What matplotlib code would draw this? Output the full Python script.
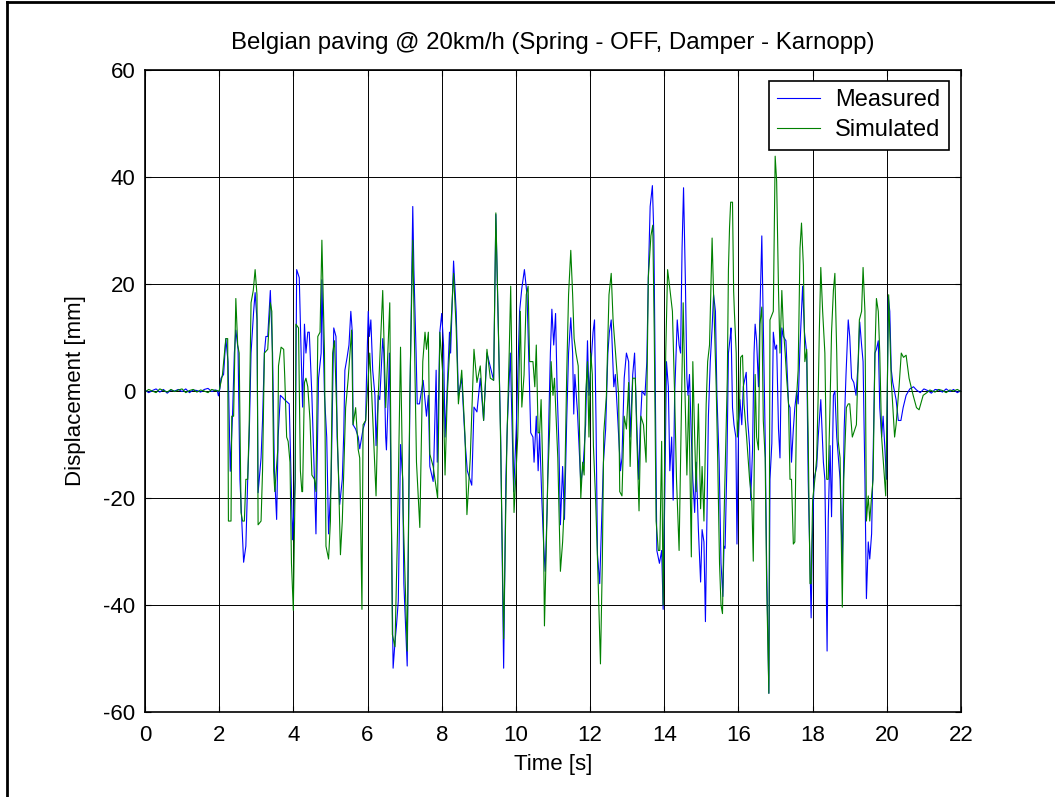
import matplotlib
matplotlib.use("Agg")
import matplotlib.pyplot as plt
from matplotlib.lines import Line2D

plt.rcParams['font.family'] = ['Liberation Sans', 'DejaVu Sans']
plt.rcParams['axes.unicode_minus'] = False

# Measured signal (time [s], displacement [mm])
meas_t = [0.00, 0.10, 0.20, 0.30, 0.40, 0.50, 0.60, 0.70, 0.80, 0.90,
          1.00, 1.10, 1.20, 1.30, 1.40, 1.50, 1.60, 1.70, 1.80, 1.90,
          1.95, 1.98, 2.02, 2.05, 2.12, 2.18, 2.24, 2.30, 2.36, 2.41,
          2.45, 2.51, 2.56, 2.60, 2.66, 2.72, 2.77, 2.81, 2.86, 2.93,
          2.97, 3.02, 3.05, 3.13, 3.17, 3.22, 3.26, 3.31, 3.38, 3.44,
          3.49, 3.55, 3.59, 3.65, 3.71, 3.76, 3.89, 3.98, 4.05, 4.09,
          4.16, 4.21, 4.25, 4.30, 4.34, 4.39, 4.43, 4.50, 4.57, 4.61,
          4.68, 4.75, 4.77, 4.84, 4.90, 4.95, 5.02, 5.09, 5.15, 5.18,
          5.25, 5.32, 5.36, 5.39, 5.45, 5.50, 5.55, 5.59, 5.61, 5.68,
          5.75, 5.79, 5.88, 5.95, 5.97, 6.02, 6.05, 6.09, 6.14, 6.20,
          6.23, 6.29, 6.33, 6.41, 6.44, 6.49, 6.51, 6.56, 6.59, 6.69,
          6.74, 6.78, 6.83, 6.89, 6.95, 6.98, 7.07, 7.11, 7.14, 7.22,
          7.25, 7.31, 7.34, 7.40, 7.50, 7.59, 7.64, 7.68, 7.77, 7.79,
          7.85, 7.88, 7.95, 8.00, 8.05, 8.09, 8.14, 8.21, 8.24, 8.32,
          8.39, 8.45, 8.54, 8.63, 8.69, 8.81, 8.87, 8.95, 9.04, 9.13,
          9.22, 9.40, 9.46, 9.53, 9.59, 9.67, 9.73, 9.77, 9.85, 9.94,
          10.01, 10.10, 10.16, 10.23, 10.30, 10.35, 10.40, 10.46, 10.49, 10.55,
          10.60, 10.64, 10.70, 10.75, 10.79, 10.84, 10.89, 10.93, 10.97, 11.02,
          11.07, 11.11, 11.16, 11.20, 11.26, 11.31, 11.37, 11.42, 11.48, 11.53,
          11.56, 11.59, 11.66, 11.75, 11.82, 11.88, 11.93, 11.97, 12.02, 12.08,
          12.12, 12.16, 12.20, 12.26, 12.31, 12.36, 12.42, 12.48, 12.52, 12.57,
          12.64, 12.68, 12.73, 12.82, 12.86, 12.92, 12.98, 13.04, 13.08, 13.15,
          13.20, 13.26, 13.31, 13.35, 13.40, 13.48, 13.53, 13.57, 13.62, 13.68,
          13.72, 13.77, 13.80, 13.87, 13.93, 13.97, 14.02, 14.06, 14.11, 14.15,
          14.20, 14.24, 14.28, 14.35, 14.40, 14.44, 14.48, 14.52, 14.57, 14.61,
          14.64, 14.68, 14.73, 14.77, 14.82, 14.86, 14.92, 14.98, 15.02, 15.07,
          15.11, 15.15, 15.19, 15.24, 15.29, 15.33, 15.38, 15.42, 15.48, 15.53,
          15.58, 15.61, 15.64, 15.69, 15.73, 15.78, 15.80, 15.84, 15.88, 15.93,
          15.96, 16.00, 16.04, 16.09, 16.13, 16.21, 16.25, 16.30, 16.33, 16.38,
          16.42, 16.45, 16.49, 16.54, 16.58, 16.63, 16.67, 16.72, 16.76, 16.82,
          16.85, 16.90, 16.94, 16.99, 17.03, 17.08, 17.12, 17.17, 17.21, 17.28,
          17.35, 17.39, 17.43, 17.48, 17.52, 17.57, 17.61, 17.66, 17.70, 17.73,
          17.78, 17.84, 17.88, 17.93, 17.96, 17.99, 18.04, 18.11, 18.15, 18.22,
          18.29, 18.33, 18.39, 18.42, 18.47, 18.51, 18.56, 18.60, 18.65, 18.74,
          18.80, 18.85, 18.90, 18.96, 19.00, 19.05, 19.11, 19.17, 19.23, 19.27,
          19.32, 19.36, 19.41, 19.45, 19.50, 19.54, 19.59, 19.63, 19.68, 19.72,
          19.77, 19.81, 19.86, 19.90, 19.95, 19.99, 20.04, 20.08, 20.12, 20.16,
          20.25, 20.31, 20.38, 20.44, 20.52, 20.62, 20.72, 20.80, 20.90, 21.00,
          21.10, 21.20, 21.30, 21.40, 21.50, 21.60, 21.70, 21.80, 21.90, 22.00]
meas_v = [0.2, -0.3, 0.1, 0.4, -0.2, 0.3, -0.4, 0.2, 0.0, 0.3,
          -0.1, 0.4, -0.3, 0.2, 0.1, -0.2, 0.3, 0.5, -0.1, 0.2,
          0.1, -0.9, 0.5, 2.4, 3.1, 9.8, 5.5, -15.0, -4.7, 7.1,
          11.4, 7.8, -16.5, -22.7, -32.0, -29.0, -16.5, -8.6, 7.1, 14.9,
          18.4, 13.3, -19.0, -12.5, -5.5, 7.1, 10.2, 10.2, 18.8, 7.1,
          -14.9, -24.0, -8.6, -0.8, -1.2, -1.6, -2.4, -27.8, -16.5, 22.7,
          21.2, 7.1, -3.0, 12.5, 7.1, 11.0, 11.0, -0.8, -16.5, -26.7,
          2.4, 7.1, 20.8, -0.8, -8.6, -26.7, -16.5, 11.8, 10.2, -8.6,
          -21.2, -16.5, -7.8, 3.9, 6.3, 8.6, 14.9, 11.0, -6.3, -7.1,
          -8.6, -10.8, -7.1, -5.5, 1.6, 14.9, 10.2, 13.3, 3.9, -0.8,
          -10.2, -0.8, -1.6, 9.8, 7.1, -8.6, -11.0, -0.8, 7.1, -51.8,
          -47.0, -43.9, -39.2, -10.0, -16.5, -36.0, -51.4, -24.3, -3.0, 34.5,
          22.7, 7.1, -2.4, -2.4, 2.0, -4.7, -0.8, -14.1, -16.9, -12.5,
          3.9, -13.3, 11.0, 14.5, 8.6, -8.6, -0.8, 11.0, 7.1, 24.3,
          14.9, -0.8, 2.4, -9.4, -14.9, -17.6, -3.0, -3.9, 2.4, -5.5,
          7.1, 2.0, 33.0, 11.0, -8.6, -51.8, -16.5, -6.3, 7.1, -18.8,
          -7.1, 14.9, 19.2, 22.7, 18.0, 5.5, -7.8, -8.6, -13.3, -4.7,
          -14.9, -7.8, -20.4, -29.0, -33.7, -22.7, -4.7, 7.1, 15.3, 8.6,
          14.5, 0.8, -10.2, -25.0, -14.1, -24.0, -5.5, 7.1, 13.7, 7.1,
          -4.3, 3.1, -3.9, -17.3, -13.3, -6.3, 9.4, -0.8, 4.7, 11.0,
          13.3, -5.5, -30.6, -36.0, -24.3, -13.3, -7.1, 7.1, 11.0, 13.3,
          0.8, 3.1, -3.1, -14.9, -12.5, 2.4, 7.1, 5.5, -8.6, 3.1,
          7.1, -6.3, -16.5, -7.1, 0.0, -0.8, 5.5, 21.2, 34.5, 38.4,
          29.0, -8.6, -29.8, -32.2, -29.8, -40.8, -16.5, 5.5, 0.8, -14.9,
          -8.6, -20.4, -0.8, 13.3, 8.6, 7.1, 26.7, 38.0, 20.4, 2.4,
          -0.8, 3.1, -8.6, -16.5, -22.7, -13.3, -25.9, -35.7, -25.9, -28.2,
          -43.1, -24.3, -4.7, 5.5, 11.8, 18.0, 14.9, -0.8, -13.3, -32.2,
          -38.4, -29.0, -29.4, -13.3, 7.1, 10.2, 11.8, -3.1, -6.3, -8.6,
          -28.6, -8.6, -1.6, -6.3, 0.8, 3.5, -5.5, -10.2, -20.4, -11.0,
          7.1, 12.5, 9.4, 0.8, 14.9, 29.0, 12.5, -8.6, -32.2, -56.5,
          -16.5, -9.8, 11.0, 7.8, 8.6, -7.1, -12.5, 11.8, 10.2, 9.4,
          -2.4, -3.1, -13.3, -7.1, -3.1, 0.0, -2.4, 8.6, 14.9, 19.6,
          11.0, 7.1, -16.5, -32.2, -42.4, -28.2, -16.5, -14.1, -8.6, -1.6,
          -13.3, -16.5, -48.6, -24.3, -10.2, -23.5, -0.8, 0.0, -8.6, -16.5,
          -32.2, -7.1, 3.1, 13.3, 10.2, 2.4, 1.6, -0.8, 5.5, 12.9,
          8.6, 5.5, -16.5, -38.8, -28.2, -31.4, -26.7, -12.5, 7.1, 7.8,
          9.4, -3.1, -8.6, -4.7, -11.0, -16.5, 17.6, 14.9, 4.0, 1.6,
          -1.6, -5.5, -5.5, -3.1, -0.8, 0.4, 0.8, 0.2, -0.3, 0.4,
          0.1, -0.4, 0.3, 0.2, -0.2, 0.4, -0.1, 0.3, -0.3, 0.1]

# Simulated signal (time [s], displacement [mm])
sim_t = [0.00, 0.10, 0.20, 0.30, 0.40, 0.50, 0.60, 0.70, 0.80, 0.90,
         1.00, 1.10, 1.20, 1.30, 1.40, 1.50, 1.60, 1.70, 1.80, 1.90,
         2.00, 2.09, 2.18, 2.23, 2.25, 2.32, 2.34, 2.39, 2.45, 2.50,
         2.54, 2.59, 2.63, 2.68, 2.72, 2.77, 2.81, 2.86, 2.92, 2.97,
         3.02, 3.05, 3.13, 3.17, 3.22, 3.31, 3.38, 3.42, 3.47, 3.50,
         3.58, 3.60, 3.67, 3.74, 3.77, 3.82, 3.86, 3.91, 3.95, 4.00,
         4.05, 4.07, 4.14, 4.19, 4.23, 4.25, 4.30, 4.34, 4.39, 4.45,
         4.50, 4.57, 4.61, 4.66, 4.72, 4.77, 4.84, 4.88, 4.95, 5.00,
         5.06, 5.11, 5.18, 5.22, 5.27, 5.32, 5.41, 5.48, 5.57, 5.61,
         5.68, 5.75, 5.79, 5.85, 5.88, 5.95, 6.06, 6.11, 6.23, 6.29,
         6.41, 6.49, 6.60, 6.67, 6.74, 6.81, 6.89, 6.96, 7.07, 7.14,
         7.22, 7.32, 7.41, 7.49, 7.55, 7.59, 7.64, 7.68, 7.77, 7.89,
         7.95, 8.03, 8.09, 8.15, 8.24, 8.32, 8.39, 8.45, 8.54, 8.63,
         8.68, 8.77, 8.87, 8.95, 9.04, 9.13, 9.22, 9.31, 9.40, 9.46,
         9.53, 9.59, 9.67, 9.76, 9.82, 9.86, 9.95, 10.05, 10.12, 10.16,
         10.22, 10.28, 10.33, 10.37, 10.46, 10.51, 10.55, 10.60, 10.64, 10.68,
         10.73, 10.77, 10.81, 10.86, 10.91, 10.95, 11.00, 11.04, 11.13, 11.20,
         11.26, 11.31, 11.37, 11.42, 11.48, 11.53, 11.57, 11.62, 11.68, 11.75,
         11.80, 11.84, 11.88, 11.93, 11.97, 12.02, 12.06, 12.09, 12.15, 12.21,
         12.28, 12.33, 12.37, 12.44, 12.51, 12.57, 12.62, 12.68, 12.73, 12.77,
         12.80, 12.86, 12.92, 12.98, 13.04, 13.08, 13.15, 13.22, 13.26, 13.32,
         13.37, 13.44, 13.51, 13.57, 13.64, 13.69, 13.73, 13.78, 13.84, 13.88,
         13.93, 13.97, 14.04, 14.09, 14.13, 14.18, 14.22, 14.28, 14.33, 14.40,
         14.44, 14.51, 14.55, 14.61, 14.66, 14.73, 14.77, 14.82, 14.86, 14.92,
         14.98, 15.02, 15.07, 15.13, 15.17, 15.22, 15.29, 15.33, 15.40, 15.44,
         15.49, 15.53, 15.57, 15.61, 15.66, 15.70, 15.73, 15.76, 15.79, 15.84,
         15.87, 15.89, 15.94, 15.97, 16.03, 16.06, 16.11, 16.15, 16.22, 16.30,
         16.36, 16.40, 16.45, 16.49, 16.54, 16.58, 16.63, 16.67, 16.72, 16.76,
         16.82, 16.85, 16.94, 16.99, 17.03, 17.08, 17.12, 17.17, 17.21, 17.26,
         17.30, 17.35, 17.39, 17.43, 17.48, 17.52, 17.57, 17.61, 17.66, 17.70,
         17.75, 17.79, 17.84, 17.88, 17.93, 17.96, 18.00, 18.06, 18.11, 18.15,
         18.18, 18.22, 18.27, 18.33, 18.38, 18.42, 18.47, 18.51, 18.56, 18.60,
         18.65, 18.69, 18.74, 18.80, 18.84, 18.91, 18.96, 19.00, 19.07, 19.14,
         19.18, 19.26, 19.32, 19.36, 19.41, 19.45, 19.50, 19.54, 19.59, 19.63,
         19.68, 19.72, 19.77, 19.81, 19.86, 19.90, 19.97, 20.05, 20.12, 20.21,
         20.25, 20.33, 20.39, 20.45, 20.52, 20.60, 20.71, 20.80, 20.87, 20.98,
         21.08, 21.16, 21.30, 21.40, 21.50, 21.60, 21.70, 21.80, 21.90, 22.00]
sim_v = [-0.2, 0.3, 0.0, -0.3, 0.4, 0.1, -0.2, 0.3, -0.1, 0.2,
         0.4, -0.3, 0.1, 0.3, -0.2, 0.2, 0.0, -0.3, 0.3, 0.1,
         0.0, 3.1, 9.8, 9.8, -24.3, -24.3, -4.7, -4.7, 17.3, 8.6,
         7.1, -22.7, -24.3, -24.3, -16.5, -16.5, -6.3, 16.5, 18.8, 22.7,
         18.0, -25.0, -24.3, -14.9, 7.1, 7.8, 16.5, 14.9, -14.9, -18.8,
         -11.0, 4.7, 8.2, 7.8, 2.4, -8.6, -9.4, -13.3, -32.2, -41.0,
         -16.5, 12.5, 11.8, -14.9, -18.8, -18.8, 1.6, 2.4, 0.8, -5.5,
         -15.7, -16.5, -18.8, 10.2, 11.0, 28.2, 7.1, -29.0, -31.4, -24.3,
         7.1, 9.4, -6.3, -16.5, -30.6, -24.3, -3.1, 2.4, 11.4, -6.3,
         -3.1, -11.0, -12.5, -40.8, -6.3, -5.5, 7.1, 0.0, -19.6, -0.8,
         18.8, -3.1, 16.5, -45.5, -47.8, -25.9, 8.2, -22.7, -48.6, -0.8,
         28.2, -13.3, -25.5, 5.5, 11.0, 7.8, 11.0, -11.8, -14.1, -20.0,
         11.0, 3.1, -15.7, -0.8, 11.0, 22.0, 11.8, -2.4, 3.9, -8.6,
         -23.1, -12.5, 7.8, 1.6, 4.7, -5.5, 7.8, 2.4, 2.0, 33.3,
         11.0, -10.2, -46.3, -8.6, 7.1, 19.6, -22.7, -8.6, 14.9, -3.0,
         3.0, 18.0, 19.6, 5.5, 5.5, 0.8, 8.6, -7.8, -7.8, -1.6,
         -16.5, -43.9, -32.2, -16.5, -7.1, 5.5, -0.8, 2.4, -12.5, -33.7,
         -28.2, -20.4, 3.1, 18.0, 26.3, 18.0, 9.8, 7.1, 4.7, -20.0,
         -13.3, -15.7, -0.8, 5.5, -8.6, 7.1, 3.1, -10.2, -20.4, -33.7,
         -51.0, -32.2, -7.8, -0.8, 18.0, 22.0, 13.3, 7.8, 3.1, -0.8,
         -18.8, -19.6, -4.7, -7.1, 1.6, -14.1, 2.4, 2.4, -8.6, -22.4,
         -4.7, -6.3, -13.3, 21.2, 29.0, 31.0, 11.0, -24.3, -29.8, -29.8,
         -9.4, -40.0, 7.1, 22.7, 20.4, 17.3, 14.9, -0.8, -16.5, -29.8,
         -12.5, 16.5, 2.4, -15.7, -0.8, -31.0, 5.5, -8.6, -18.8, -2.4,
         -22.0, -14.1, -24.3, -2.4, 5.5, 8.6, 28.6, 18.0, 0.8, -12.5,
         -32.2, -40.0, -41.6, -24.3, -9.4, 2.4, 22.7, 30.6, 35.3, 35.3,
         18.8, 14.9, 7.1, -8.6, -2.4, 6.3, 6.7, -2.4, -8.6, -16.5,
         -20.4, -31.8, 3.1, -8.6, -11.0, 12.5, 15.7, -5.5, -12.5, -36.0,
         -56.5, 13.3, 14.9, 43.9, 39.2, 18.8, 7.1, 18.8, 11.8, 7.1,
         2.4, -2.4, -16.5, -16.5, -28.6, -28.2, -0.8, 3.9, 26.7, 31.4,
         23.5, 5.5, 7.8, -8.6, -36.0, -36.0, -20.4, -16.5, -12.5, -0.8,
         11.0, 23.1, 14.9, 7.1, -16.5, -16.5, -2.4, 11.0, 18.8, 22.0,
         7.1, -9.4, -12.5, -40.4, -16.5, -3.1, -2.4, -2.4, -8.6, -7.1,
         -6.3, 13.3, 14.9, 23.1, 14.9, -24.3, -19.6, -24.3, -19.6, -16.5,
         7.1, 17.3, 14.9, 7.1, -8.6, -12.5, -19.6, 18.0, 2.0, -8.6,
         -6.3, 0.8, 7.1, 6.3, 6.7, 2.4, -0.8, -3.1, -3.5, -0.8,
         -0.3, 0.2, -0.2, 0.3, 0.1, -0.3, 0.2, 0.0, 0.3, -0.1]

fig = plt.figure(figsize=(10.55, 7.97), dpi=100)
ax = fig.add_axes([0.1374, 0.1066, 0.7735, 0.8055])

ax.plot(meas_t, meas_v, color='#0000ff', lw=0.8, label='Measured')
ax.plot(sim_t, sim_v, color='#008000', lw=0.8, label='Simulated')

ax.set_xlim(0, 22)
ax.set_ylim(-60, 60)
ax.set_xticks(range(0, 23, 2))
ax.set_yticks(range(-60, 61, 20))
ax.grid(True, color='black', lw=0.7, ls='-')
ax.tick_params(direction='in', length=4, labelsize=16, top=True, right=True)
ax.tick_params(axis='x', pad=9)
ax.tick_params(axis='y', pad=7)
for s in ax.spines.values():
    s.set_linewidth(1.2)

ax.set_title('Belgian paving @ 20km/h (Spring - OFF, Damper - Karnopp)', fontsize=17.3, pad=15)
ax.set_xlabel('Time [s]', fontsize=16, labelpad=6)
ax.set_ylabel('Displacement [mm]', fontsize=16, labelpad=12)

leg = ax.legend(loc='upper right', bbox_to_anchor=(0.9853, 0.983), fontsize=17,
                fancybox=False, framealpha=1, edgecolor='black', handlelength=1.8,
                handletextpad=0.65, borderaxespad=0.0, labelspacing=0.32, borderpad=0.36)
leg.get_frame().set_linewidth(1.2)

# frame of the original window (left and top edges only)
fig.add_artist(Line2D([7 / 1055, 7 / 1055], [0, 1 - 2 / 797], color='black', lw=2))
fig.add_artist(Line2D([7 / 1055, 1], [1 - 2 / 797, 1 - 2 / 797], color='black', lw=2))

fig.savefig('out.png', dpi=100)
